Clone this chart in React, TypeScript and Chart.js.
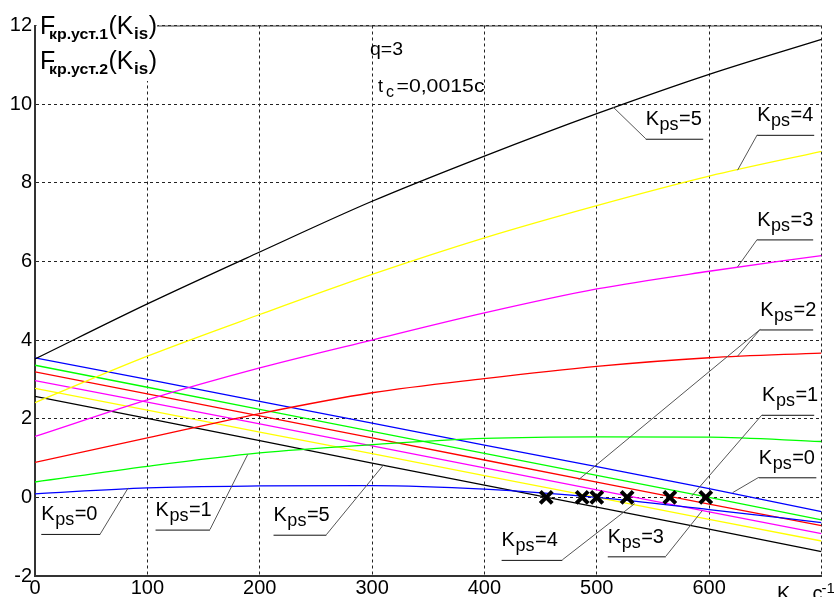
import React, { useEffect, useRef } from 'react';
import { Chart, registerables } from 'chart.js';

Chart.register(...registerables);

// K_is values (c^-1) at which the curves were read
const kisPoints = [0, 100, 200, 300, 400, 500, 600, 700];

// F_kp.уст.1 (rising curves), Kps = 0..5
const rise0 = [0.09, 0.24, 0.29, 0.30, 0.21, 0.0, -0.31, -0.64];
const rise1 = [0.39, 0.79, 1.13, 1.34, 1.50, 1.54, 1.53, 1.42];
const rise2 = [0.89, 1.51, 2.13, 2.66, 3.02, 3.33, 3.55, 3.67];
const rise3 = [1.55, 2.48, 3.29, 4.0, 4.69, 5.30, 5.75, 6.15];
const rise4 = [2.41, 3.59, 4.65, 5.67, 6.60, 7.42, 8.17, 8.80];
const rise5 = [3.52, 4.92, 6.24, 7.53, 8.68, 9.76, 10.76, 11.65];

// F_kp.уст.2 (falling lines), Kps = 0..5
const fall0 = [3.55, 3.00, 2.44, 1.89, 1.33, 0.78, 0.22, -0.36];
const fall1 = [3.36, 2.80, 2.24, 1.68, 1.12, 0.56, 0.0, -0.57];
const fall2 = [3.19, 2.63, 2.07, 1.51, 0.95, 0.39, -0.17, -0.72];
const fall3 = [2.97, 2.42, 1.87, 1.31, 0.75, 0.19, -0.37, -0.92];
const fall4 = [2.77, 2.22, 1.66, 1.11, 0.55, 0.0, -0.56, -1.11];
const fall5 = [2.57, 2.01, 1.44, 0.87, 0.31, -0.25, -0.81, -1.38];

// marked points (crosses)
const crossX = [455, 487, 500, 527, 565, 597];
const crossY = [0, 0, 0, 0, 0, 0];

const kpsLabels = ['0', '1', '2', '3', '4', '5'];
const kpsColors = ['#0000ff', '#00ff00', '#ff0000', '#ff00ff', '#ffff00', '#000000'];

const xTickValues = [0, 100, 200, 300, 400, 500, 600];
const yTickValues = [-2, 0, 2, 4, 6, 8, 10, 12];

const FONT = "'Liberation Sans', Arial, sans-serif";

// label annotations (data coordinates): underline from ux1..ux2 at uy, leaders to targets
// attach: 'start' -> leader leaves from underline left end, 'end' -> from right end
const annotations = [
  { kps: '5', ux1: 543.6, ux2: 594.7, uy: 9.12, attach: 'start', targets: [[514.4, 9.93]] },
  { kps: '4', ux1: 642.8, ux2: 693.5, uy: 9.22, attach: 'start', targets: [[625.3, 8.32]] },
  { kps: '3', ux1: 642.8, ux2: 692.6, uy: 6.56, attach: 'start', targets: [[625.3, 5.86]] },
  { kps: '2', ux1: 645.4, ux2: 692.6, uy: 4.27, attach: 'start', targets: [[625.3, 3.59], [483.8, 0.45]] },
  { kps: '1', ux1: 647.1, ux2: 693.5, uy: 2.10, attach: 'start', targets: [[584.4, 0.03]] },
  { kps: '0', ux1: 644.2, ux2: 695.4, uy: 0.51, attach: 'start', targets: [[620.9, 0.12]] },
  { kps: '0', ux1: 5.6, ux2: 58.1, uy: -0.93, attach: 'end', targets: [[82.9, 0.24]] },
  { kps: '1', ux1: 107.3, ux2: 155.7, uy: -0.82, attach: 'end', targets: [[189.3, 1.09]] },
  { kps: '5', ux1: 212.3, ux2: 259.3, uy: -0.95, attach: 'end', targets: [[310.3, 0.83]] },
  { kps: '4', ux1: 415.3, ux2: 469.3, uy: -1.59, attach: 'end', targets: [[533.7, -0.16]] },
  { kps: '3', ux1: 509.8, ux2: 561.4, uy: -1.50, attach: 'end', targets: [[593.8, -0.34]] },
];

const toPoints = (ys: number[]) => kisPoints.map((x, i) => ({ x, y: ys[i] }));

const stretchText = (ctx: CanvasRenderingContext2D, text: string, x: number, y: number, width: number) => {
  const w = ctx.measureText(text).width;
  ctx.save();
  ctx.translate(x, y);
  ctx.scale(width / w, 1);
  ctx.fillText(text, 0, 0);
  ctx.restore();
};

const decorPlugin = {
  id: 'decor',
  afterDatasetsDraw(chart: any) {
    const ctx = chart.ctx as CanvasRenderingContext2D;
    const xs = chart.scales.x;
    const ys = chart.scales.y;
    const area = chart.chartArea;
    ctx.save();

    // white box behind the axis title (top-left)
    ctx.fillStyle = '#ffffff';
    ctx.fillRect(area.left + 1.5, 0, 121, 81);

    // top frame line
    ctx.strokeStyle = '#333333';
    ctx.lineWidth = 1;
    ctx.beginPath();
    ctx.moveTo(area.left + 122, area.top + 0.5);
    ctx.lineTo(area.right, area.top + 0.5);
    ctx.stroke();

    ctx.fillStyle = '#000000';
    ctx.textBaseline = 'alphabetic';
    ctx.textAlign = 'left';

    // Y-axis title: F_кр.уст.1(K_is) / F_кр.уст.2(K_is)
    const drawTitleLine = (idx: string, base: number) => {
      let x = area.left + 5;
      ctx.font = `25px ${FONT}`;
      ctx.fillText('F', x, base);
      x += 9;
      ctx.font = `bold 15px ${FONT}`;
      stretchText(ctx, 'кр.уст.' + idx, x, base + 5, 59);
      x += 59.5;
      ctx.font = `25px ${FONT}`;
      ctx.fillText('(K', x, base);
      x += ctx.measureText('(K').width + 0.5;
      ctx.font = `bold 17px ${FONT}`;
      ctx.fillText('is', x, base + 5);
      x += ctx.measureText('is').width + 0.5;
      ctx.font = `25px ${FONT}`;
      ctx.fillText(')', x, base);
    };
    drawTitleLine('1', area.top + 8);
    drawTitleLine('2', area.top + 43);

    // parameters text
    ctx.font = `18px ${FONT}`;
    stretchText(ctx, 'q=3', 370, area.top + 29.5, 33);
    ctx.fillText('t', 378, area.top + 66);
    ctx.font = `16px ${FONT}`;
    ctx.fillText('c', 386, area.top + 71);
    ctx.font = `18px ${FONT}`;
    stretchText(ctx, '=0,0015c', 396.5, area.top + 66, 88);

    // Kps labels with underline and leader lines
    annotations.forEach((a) => {
      const x1 = xs.getPixelForValue(a.ux1);
      const x2 = xs.getPixelForValue(a.ux2);
      const uy = ys.getPixelForValue(a.uy);
      const ax = a.attach === 'start' ? x1 : x2;
      ctx.strokeStyle = '#555555';
      ctx.lineWidth = 1;
      a.targets.forEach(([tx, ty]) => {
        ctx.beginPath();
        ctx.moveTo(ax, uy);
        ctx.lineTo(xs.getPixelForValue(tx), ys.getPixelForValue(ty));
        ctx.stroke();
      });
      ctx.strokeStyle = '#111111';
      ctx.beginPath();
      ctx.moveTo(x1, uy + 0.5);
      ctx.lineTo(x2, uy + 0.5);
      ctx.stroke();

      const base = uy - 13.5;
      let x = x1;
      ctx.fillStyle = '#000000';
      ctx.font = `20px ${FONT}`;
      ctx.fillText('K', x, base);
      x += ctx.measureText('K').width + 0.5;
      ctx.font = `18px ${FONT}`;
      ctx.fillText('ps', x, base + 5);
      x += ctx.measureText('ps').width + 0.5;
      ctx.font = `20px ${FONT}`;
      ctx.fillText('=' + a.kps, x, base);
    });

    // X-axis title: K_is, c^-1 (partly cut off at the bottom)
    ctx.font = `20px ${FONT}`;
    ctx.fillText('K', 777, 599.5);
    ctx.font = `bold 17px ${FONT}`;
    ctx.fillText('is', 791, 612);
    ctx.font = `20px ${FONT}`;
    ctx.fillText('c', 812.5, 599.5);
    ctx.font = `15px ${FONT}`;
    ctx.fillText('-1', 821.5, 593.3);

    ctx.restore();
  },
};

export default function App() {
  const canvasRef = useRef<HTMLCanvasElement | null>(null);

  useEffect(() => {
    if (!canvasRef.current) return;
    const datasets: any[] = [];
    const rises = [rise0, rise1, rise2, rise3, rise4, rise5];
    const falls = [fall0, fall1, fall2, fall3, fall4, fall5];
    rises.forEach((r, i) => {
      datasets.push({
        label: 'F кр.уст.1, Kps=' + kpsLabels[i],
        data: toPoints(r),
        showLine: true,
        borderColor: kpsColors[i],
        backgroundColor: kpsColors[i],
        borderWidth: 1.3,
        pointRadius: 0,
        cubicInterpolationMode: 'monotone',
      });
    });
    falls.forEach((f, i) => {
      datasets.push({
        label: 'F кр.уст.2, Kps=' + kpsLabels[i],
        data: toPoints(f),
        showLine: true,
        borderColor: kpsColors[i],
        backgroundColor: kpsColors[i],
        borderWidth: 1.3,
        pointRadius: 0,
        tension: 0,
      });
    });
    datasets.push({
      label: 'points',
      data: crossX.map((x, i) => ({ x, y: crossY[i] })),
      showLine: false,
      order: -1,
      pointStyle: 'crossRot',
      pointRadius: 8.5,
      borderWidth: 4,
      borderColor: '#000000',
      backgroundColor: '#000000',
    });

    const chart = new Chart(canvasRef.current, {
      type: 'scatter',
      data: { datasets },
      options: {
        responsive: false,
        animation: false,
        layout: { padding: { top: 25.5, left: 0, right: 0, bottom: 0 } },
        plugins: {
          legend: { display: false },
          tooltip: { enabled: false },
          title: { display: false },
        },
        scales: {
          x: {
            type: 'linear',
            min: 0,
            max: 700,
            afterFit: (s: any) => { s.height = 21; },
            afterBuildTicks: (s: any) => { s.ticks = [...xTickValues, 700].map((v) => ({ value: v })); },
            ticks: {
              font: { family: FONT, size: 20 },
              color: '#000000',
              padding: 0,
              maxRotation: 0,
              autoSkip: false,
              callback: (v: any) => (xTickValues.includes(v) ? String(v) : ''),
            },
            grid: { color: '#222222', lineWidth: 1, drawTicks: false },
            border: { display: true, color: '#333333', width: 2, dash: [3, 3] },
          },
          y: {
            type: 'linear',
            min: -2,
            max: 12,
            afterFit: (s: any) => { s.width = 35; },
            afterBuildTicks: (s: any) => { s.ticks = yTickValues.map((v) => ({ value: v })); },
            ticks: {
              font: { family: FONT, size: 20 },
              color: '#000000',
              padding: 3,
              autoSkip: false,
              callback: (v: any) => String(v),
            },
            grid: { color: '#222222', lineWidth: 1, drawTicks: false },
            border: { display: true, color: '#333333', width: 2, dash: [3, 3] },
          },
        },
      },
      plugins: [decorPlugin],
    } as any);
    return () => chart.destroy();
  }, []);

  return (
    <div style={{ position: 'absolute', left: 0, top: 0, width: 834, height: 597, background: '#ffffff' }}>
      <canvas ref={canvasRef} width={834} height={597} style={{ display: 'block', width: 834, height: 597 }} />
    </div>
  );
}
